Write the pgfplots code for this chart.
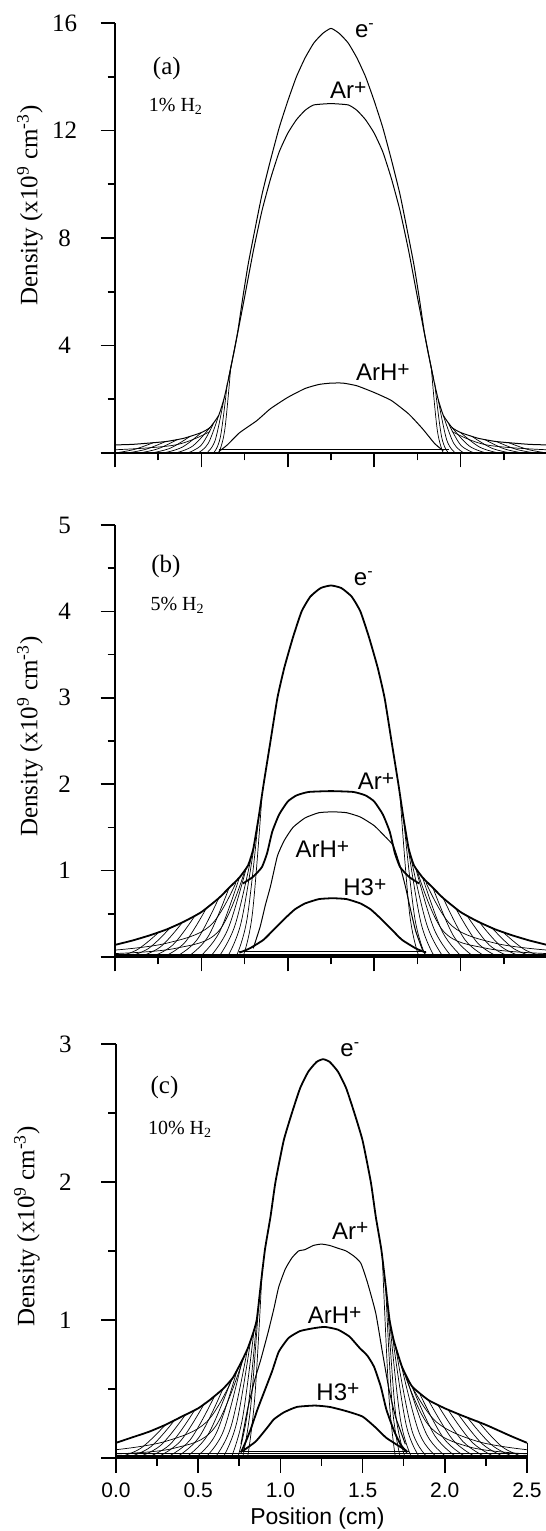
\documentclass[border=0pt]{standalone}
\usepackage{pgfplots}
\pgfplotsset{compat=1.18}
\usepackage{fontspec}
\setmainfont{Liberation Serif}
\setsansfont{Liberation Sans}
\newcommand{\tickf}{\fontsize{12.5}{14}\selectfont}
\newcommand{\ylabf}{\fontsize{12.5}{14}\selectfont}
\newcommand{\curvf}{\sffamily\fontsize{12}{14}\selectfont}
\newcommand{\panf}{\fontsize{12.5}{14}\selectfont}
\newcommand{\gasf}{\fontsize{10}{12}\selectfont}
\newcommand{\plus}{\raisebox{0.35ex}{\fontsize{10.5}{10}\selectfont +}}
\pgfplotsset{
  panel/.style={scale only axis, axis x line=bottom, axis y line=left,
    axis line style={-, line width=0.8pt}, tick align=outside,
    major tick length=7.25pt, minor tick length=3.75pt,
    every tick/.style={black, line width=0.8pt},
    xmin=0, xmax=2.5, xtick={0,0.5,1,1.5,2,2.5}, minor x tick num=1, minor y tick num=1,
    clip=false, enlargelimits=false,
    /pgf/number format/assume math mode=true,
    yticklabel style={font=\tickf, anchor=center, xshift=-18pt},
    every axis y label/.style={rotate=90, anchor=center, font=\ylabf}},
  fan/.style={black, line width=0.35pt, smooth, tension=0.6},
  thn/.style={black, line width=0.5pt, smooth, tension=0.3},
  thk/.style={black, line width=0.9pt, smooth, tension=0.3},
  flat/.style={black, line width=0.5pt}
}
\begin{document}
\begin{tikzpicture}
% ---------------- panel (a)
\begin{axis}[panel, at={(57.5pt,539pt)}, anchor=south west, width=216pt, height=215pt,
  ymin=0, ymax=16, ytick={0,4,8,12,16}, yticklabels={,4,8,12,16}, xticklabels={},
  ylabel={Density (x10\textsuperscript{9} cm\textsuperscript{-3})},
  ylabel style={at={(axis description cs:-0.197,0.576)}}]
\addplot[flat] coordinates {(0,0)(0,0.30)};
\addplot[flat] coordinates {(2.5,0)(2.5,0.30)};
\addplot[thn] coordinates {(0,0.30)(0.1,0.32)(0.2,0.37)(0.3,0.43)(0.4,0.55)(0.5,0.76)(0.55,0.95)(0.6,1.4)(0.63,2.0)(0.655,2.7)(0.68,3.5)(0.71,4.5)(0.74,5.8)(0.77,7.0)(0.8,8.0)(0.85,9.6)(0.9,10.9)(0.95,12.1)(1.0,13.1)(1.05,14.0)(1.1,14.7)(1.15,15.25)(1.2,15.6)(1.25,15.8)(1.3,15.6)(1.35,15.25)(1.4,14.7)(1.45,14.0)(1.5,13.1)(1.55,12.1)(1.6,10.9)(1.65,9.6)(1.7,8.0)(1.73,7.0)(1.76,5.8)(1.79,4.5)(1.82,3.5)(1.845,2.7)(1.87,2.0)(1.9,1.4)(1.95,0.95)(2.0,0.76)(2.1,0.55)(2.2,0.43)(2.3,0.37)(2.4,0.32)(2.5,0.30)};
\addplot[thn] coordinates {(0.655,2.7)(0.69,3.8)(0.72,4.8)(0.75,5.8)(0.8,7.5)(0.85,9.0)(0.9,10.2)(0.95,11.2)(1.0,11.9)(1.05,12.4)(1.1,12.75)(1.15,12.95)(1.25,13.0)(1.35,12.95)(1.4,12.75)(1.45,12.4)(1.5,11.9)(1.55,11.2)(1.6,10.2)(1.65,9.0)(1.7,7.5)(1.75,5.8)(1.78,4.8)(1.81,3.8)(1.845,2.7)};
\addplot[thn] coordinates {(0.6,0.05)(0.65,0.3)(0.72,0.75)(0.82,1.2)(0.9,1.65)(1.0,2.07)(1.1,2.4)(1.18,2.55)(1.25,2.6)(1.32,2.6)(1.4,2.5)(1.5,2.25)(1.6,1.95)(1.7,1.45)(1.78,0.9)(1.85,0.35)(1.9,0.08)};
\addplot[flat] coordinates {(0.6,0.13)(1.93,0.13)};
\addplot[flat] coordinates {(0,0.03)(2.5,0.03)};
% fans left
\addplot[fan] coordinates {(0,0)(0.11,0.13)(0.22,0.38)};
\addplot[fan] coordinates {(0.07,0)(0.18,0.14)(0.29,0.42)};
\addplot[fan] coordinates {(0.14,0)(0.25,0.16)(0.36,0.5)};
\addplot[fan] coordinates {(0.21,0)(0.32,0.18)(0.43,0.6)};
\addplot[fan] coordinates {(0.28,0)(0.39,0.22)(0.5,0.76)};
\addplot[fan] coordinates {(0.35,0)(0.45,0.26)(0.55,0.95)};
\addplot[fan] coordinates {(0.42,0)(0.5,0.3)(0.57,1.1)};
\addplot[fan] coordinates {(0.48,0)(0.54,0.36)(0.6,1.4)};
\addplot[fan] coordinates {(0.53,0)(0.58,0.48)(0.63,2.0)};
\addplot[fan] coordinates {(0.57,0)(0.61,0.6)(0.65,2.6)};
\addplot[fan] coordinates {(0.6,0)(0.635,0.85)(0.67,3.2)};
\addplot[fan] coordinates {(0,0.12)(0.35,0.3)(0.55,0.8)};
% fans right
\addplot[fan] coordinates {(2.5,0)(2.39,0.13)(2.28,0.38)};
\addplot[fan] coordinates {(2.43,0)(2.32,0.14)(2.21,0.42)};
\addplot[fan] coordinates {(2.36,0)(2.25,0.16)(2.14,0.5)};
\addplot[fan] coordinates {(2.29,0)(2.18,0.18)(2.07,0.6)};
\addplot[fan] coordinates {(2.22,0)(2.11,0.22)(2.0,0.76)};
\addplot[fan] coordinates {(2.15,0)(2.05,0.26)(1.95,0.95)};
\addplot[fan] coordinates {(2.08,0)(2.0,0.3)(1.93,1.1)};
\addplot[fan] coordinates {(2.02,0)(1.96,0.36)(1.9,1.4)};
\addplot[fan] coordinates {(1.97,0)(1.92,0.48)(1.87,2.0)};
\addplot[fan] coordinates {(1.93,0)(1.89,0.6)(1.85,2.6)};
\addplot[fan] coordinates {(1.9,0)(1.865,0.85)(1.83,3.2)};
\addplot[fan] coordinates {(2.5,0.12)(2.15,0.3)(1.95,0.8)};
\node[font=\curvf] at (axis cs:1.446,15.72) {e\textsuperscript{-}};
\node[font=\curvf] at (axis cs:1.35,13.48) {Ar\plus};
\node[font=\curvf] at (axis cs:1.55,3.0) {ArH\plus};
\node[font=\panf] at (axis description cs:0.12,0.895) {(a)};
\node[font=\gasf] at (axis description cs:0.141,0.805) {1\% H\textsubscript{2}};
\end{axis}
% ---------------- panel (b)
\begin{axis}[panel, at={(57.5pt,287pt)}, anchor=south west, width=216pt, height=216pt,
  ymin=0, ymax=5, ytick={0,1,2,3,4,5}, yticklabels={,1,2,3,4,5}, xticklabels={},
  ylabel={Density (x10\textsuperscript{9} cm\textsuperscript{-3})},
  ylabel style={at={(axis description cs:-0.197,0.51)}}]
\addplot[flat] coordinates {(0,0)(0,0.14)};
\addplot[flat] coordinates {(2.5,0)(2.5,0.14)};
\addplot[thk] coordinates {(0,0.14)(0.1,0.19)(0.2,0.25)(0.3,0.32)(0.4,0.41)(0.5,0.52)(0.6,0.68)(0.66,0.8)(0.72,0.92)(0.77,1.06)(0.8,1.25)(0.83,1.6)(0.86,2.0)(0.9,2.5)(0.94,3.0)(0.98,3.35)(1.03,3.7)(1.08,4.0)(1.13,4.17)(1.19,4.27)(1.25,4.3)(1.31,4.27)(1.37,4.17)(1.42,4.0)(1.47,3.7)(1.52,3.35)(1.56,3.0)(1.6,2.5)(1.64,2.0)(1.67,1.6)(1.7,1.25)(1.73,1.06)(1.78,0.92)(1.84,0.8)(1.9,0.68)(2.0,0.52)(2.1,0.41)(2.2,0.32)(2.3,0.25)(2.4,0.19)(2.5,0.14)};
\addplot[thk] coordinates {(0.74,0.85)(0.8,0.93)(0.85,1.04)(0.88,1.2)(0.91,1.45)(0.95,1.65)(1.0,1.8)(1.05,1.87)(1.12,1.91)(1.25,1.92)(1.38,1.91)(1.45,1.87)(1.5,1.8)(1.55,1.65)(1.59,1.45)(1.62,1.2)(1.65,1.04)(1.7,0.93)(1.76,0.85)};
\addplot[thn] coordinates {(0.8,0.1)(0.84,0.35)(0.87,0.6)(0.9,0.82)(0.94,1.17)(0.98,1.35)(1.03,1.5)(1.1,1.61)(1.18,1.67)(1.26,1.68)(1.34,1.67)(1.42,1.62)(1.5,1.52)(1.56,1.4)(1.61,1.29)(1.65,1.05)(1.68,0.82)(1.71,0.55)(1.74,0.3)(1.78,0.08)};
\addplot[thk] coordinates {(0.72,0.05)(0.78,0.1)(0.86,0.2)(0.92,0.32)(0.98,0.44)(1.04,0.55)(1.1,0.62)(1.18,0.67)(1.26,0.68)(1.34,0.67)(1.42,0.62)(1.48,0.55)(1.54,0.44)(1.6,0.32)(1.66,0.2)(1.74,0.1)(1.8,0.05)};
\addplot[flat] coordinates {(0.72,0.06)(1.8,0.06)};
\addplot[flat, line width=0.9pt] coordinates {(0,0.02)(2.5,0.02)};
% fans left
\addplot[fan] coordinates {(0,0)(0.125,0.08)(0.25,0.28)};
\addplot[fan] coordinates {(0.07,0)(0.195,0.1)(0.32,0.34)};
\addplot[fan] coordinates {(0.14,0)(0.265,0.12)(0.39,0.4)};
\addplot[fan] coordinates {(0.21,0)(0.335,0.14)(0.46,0.47)};
\addplot[fan] coordinates {(0.28,0)(0.405,0.17)(0.53,0.57)};
\addplot[fan] coordinates {(0.35,0)(0.475,0.2)(0.6,0.68)};
\addplot[fan] coordinates {(0.42,0)(0.54,0.24)(0.66,0.8)};
\addplot[fan] coordinates {(0.49,0)(0.605,0.29)(0.72,0.92)};
\addplot[fan] coordinates {(0.55,0)(0.655,0.33)(0.76,1.03)};
\addplot[fan] coordinates {(0.6,0)(0.695,0.37)(0.79,1.17)};
\addplot[fan] coordinates {(0.65,0)(0.73,0.4)(0.81,1.35)};
\addplot[fan] coordinates {(0.7,0)(0.765,0.45)(0.83,1.6)};
\addplot[fan] coordinates {(0.74,0)(0.795,0.5)(0.85,1.85)};
\addplot[fan] coordinates {(0,0.08)(0.3,0.16)(0.55,0.36)(0.7,0.86)};
\addplot[fan] coordinates {(0,0.04)(0.35,0.1)(0.6,0.3)(0.75,0.99)};
% fans right
\addplot[fan] coordinates {(2.5,0)(2.375,0.08)(2.25,0.28)};
\addplot[fan] coordinates {(2.43,0)(2.305,0.1)(2.18,0.34)};
\addplot[fan] coordinates {(2.36,0)(2.235,0.12)(2.11,0.4)};
\addplot[fan] coordinates {(2.29,0)(2.165,0.14)(2.04,0.47)};
\addplot[fan] coordinates {(2.22,0)(2.095,0.17)(1.97,0.57)};
\addplot[fan] coordinates {(2.15,0)(2.025,0.2)(1.9,0.68)};
\addplot[fan] coordinates {(2.08,0)(1.96,0.24)(1.84,0.8)};
\addplot[fan] coordinates {(2.01,0)(1.895,0.29)(1.78,0.92)};
\addplot[fan] coordinates {(1.95,0)(1.845,0.33)(1.74,1.03)};
\addplot[fan] coordinates {(1.9,0)(1.805,0.37)(1.71,1.17)};
\addplot[fan] coordinates {(1.85,0)(1.77,0.4)(1.69,1.35)};
\addplot[fan] coordinates {(1.8,0)(1.735,0.45)(1.67,1.6)};
\addplot[fan] coordinates {(1.76,0)(1.705,0.5)(1.65,1.85)};
\addplot[fan] coordinates {(2.5,0.08)(2.2,0.16)(1.95,0.36)(1.8,0.86)};
\addplot[fan] coordinates {(2.5,0.04)(2.15,0.1)(1.9,0.3)(1.75,0.99)};
\node[font=\curvf] at (axis cs:1.44,4.38) {e\textsuperscript{-}};
\node[font=\curvf] at (axis cs:1.51,2.03) {Ar\plus};
\node[font=\curvf] at (axis cs:1.20,1.245) {ArH\plus};
\node[font=\curvf] at (axis cs:1.446,0.805) {H3\plus};
\node[font=\panf] at (axis description cs:0.118,0.905) {(b)};
\node[font=\gasf] at (axis description cs:0.145,0.815) {5\% H\textsubscript{2}};
\end{axis}
% ---------------- panel (c)
\begin{axis}[panel, at={(58pt,36.5pt)}, anchor=south west, width=205.5pt, height=207pt,
  ymin=0, ymax=3, ytick={0,1,2,3}, yticklabels={,1,2,3},
  xticklabels={0.0,0.5,1.0,1.5,2.0,2.5},
  xticklabel style={font=\sffamily\fontsize{10.5}{12}\selectfont, anchor=center, yshift=-9pt},
  xlabel={Position (cm)},
  xlabel style={at={(axis description cs:0.49,0)}, anchor=center, yshift=-30.5pt, font=\sffamily\fontsize{11.5}{13}\selectfont},
  ylabel={Density (x10\textsuperscript{9} cm\textsuperscript{-3})},
  ylabel style={at={(axis description cs:-0.217,0.56)}}]
\addplot[flat] coordinates {(0,0)(0,0.11)};
\addplot[flat] coordinates {(2.5,0)(2.5,0.11)};
\addplot[thk] coordinates {(0,0.11)(0.1,0.15)(0.2,0.19)(0.3,0.24)(0.4,0.3)(0.5,0.36)(0.57,0.42)(0.65,0.5)(0.71,0.58)(0.76,0.69)(0.8,0.79)(0.83,0.89)(0.856,1.0)(0.88,1.25)(0.906,1.51)(0.94,1.75)(0.97,2.0)(1.02,2.3)(1.07,2.5)(1.12,2.68)(1.17,2.8)(1.22,2.87)(1.26,2.89)(1.30,2.87)(1.35,2.8)(1.40,2.68)(1.45,2.5)(1.50,2.3)(1.55,2.0)(1.58,1.75)(1.614,1.51)(1.64,1.25)(1.664,1.0)(1.69,0.85)(1.74,0.66)(1.8,0.52)(1.9,0.42)(2.0,0.36)(2.1,0.31)(2.25,0.24)(2.4,0.16)(2.5,0.11)};
\addplot[thn] coordinates {(0.76,0.1)(0.8,0.35)(0.84,0.55)(0.88,0.71)(0.925,0.91)(0.96,1.08)(0.99,1.24)(1.03,1.37)(1.07,1.45)(1.11,1.5)(1.15,1.51)(1.2,1.54)(1.25,1.55)(1.3,1.54)(1.35,1.52)(1.4,1.5)(1.45,1.46)(1.49,1.41)(1.53,1.27)(1.58,1.05)(1.62,0.77)(1.66,0.5)(1.7,0.3)(1.76,0.1)};
\addplot[thk] coordinates {(0.76,0.04)(0.79,0.12)(0.82,0.21)(0.86,0.35)(0.905,0.49)(0.95,0.63)(0.99,0.77)(1.05,0.87)(1.12,0.92)(1.2,0.94)(1.27,0.95)(1.35,0.93)(1.42,0.88)(1.48,0.8)(1.53,0.74)(1.57,0.66)(1.61,0.52)(1.645,0.35)(1.69,0.2)(1.73,0.1)(1.77,0.04)};
\addplot[thk] coordinates {(0.77,0.05)(0.85,0.12)(0.92,0.22)(0.96,0.28)(1.02,0.33)(1.1,0.37)(1.21,0.38)(1.3,0.37)(1.4,0.34)(1.5,0.3)(1.58,0.22)(1.64,0.15)(1.69,0.11)(1.77,0.05)};
\addplot[flat] coordinates {(0.75,0.05)(1.78,0.05)};
\addplot[flat, line width=0.9pt] coordinates {(0,0.015)(2.5,0.015)};
\addplot[flat] coordinates {(0,0.03)(2.5,0.03)};
% fans left
\addplot[fan] coordinates {(0,0)(0.15,0.07)(0.3,0.24)};
\addplot[fan] coordinates {(0.06,0)(0.21,0.08)(0.36,0.28)};
\addplot[fan] coordinates {(0.12,0)(0.27,0.09)(0.42,0.31)};
\addplot[fan] coordinates {(0.18,0)(0.33,0.1)(0.48,0.35)};
\addplot[fan] coordinates {(0.24,0)(0.39,0.12)(0.54,0.4)};
\addplot[fan] coordinates {(0.3,0)(0.45,0.13)(0.6,0.45)};
\addplot[fan] coordinates {(0.36,0)(0.505,0.15)(0.65,0.5)};
\addplot[fan] coordinates {(0.42,0)(0.56,0.17)(0.7,0.56)};
\addplot[fan] coordinates {(0.48,0)(0.61,0.18)(0.74,0.65)};
\addplot[fan] coordinates {(0.54,0)(0.655,0.2)(0.77,0.72)};
\addplot[fan] coordinates {(0.6,0)(0.7,0.23)(0.8,0.79)};
\addplot[fan] coordinates {(0.65,0)(0.735,0.26)(0.82,0.86)};
\addplot[fan] coordinates {(0.7,0)(0.77,0.29)(0.84,0.93)};
\addplot[fan] coordinates {(0.74,0)(0.8,0.33)(0.856,1.0)};
\addplot[fan] coordinates {(0.77,0)(0.82,0.38)(0.87,1.15)};
\addplot[fan] coordinates {(0.8,0)(0.845,0.45)(0.89,1.38)};
\addplot[fan] coordinates {(0,0.06)(0.3,0.12)(0.55,0.26)(0.71,0.58)};
\addplot[fan] coordinates {(0,0.03)(0.35,0.07)(0.6,0.22)(0.78,0.74)};
% fans right
\addplot[fan] coordinates {(2.5,0)(2.35,0.08)(2.2,0.27)};
\addplot[fan] coordinates {(2.44,0)(2.29,0.09)(2.14,0.29)};
\addplot[fan] coordinates {(2.38,0)(2.23,0.1)(2.08,0.32)};
\addplot[fan] coordinates {(2.32,0)(2.17,0.11)(2.02,0.35)};
\addplot[fan] coordinates {(2.26,0)(2.11,0.12)(1.96,0.38)};
\addplot[fan] coordinates {(2.2,0)(2.05,0.13)(1.9,0.42)};
\addplot[fan] coordinates {(2.14,0)(1.995,0.14)(1.85,0.46)};
\addplot[fan] coordinates {(2.08,0)(1.94,0.16)(1.8,0.52)};
\addplot[fan] coordinates {(2.02,0)(1.89,0.17)(1.76,0.61)};
\addplot[fan] coordinates {(1.96,0)(1.845,0.18)(1.73,0.7)};
\addplot[fan] coordinates {(1.9,0)(1.8,0.2)(1.7,0.81)};
\addplot[fan] coordinates {(1.85,0)(1.765,0.24)(1.68,0.9)};
\addplot[fan] coordinates {(1.8,0)(1.73,0.28)(1.664,1.0)};
\addplot[fan] coordinates {(1.76,0)(1.7,0.33)(1.65,1.15)};
\addplot[fan] coordinates {(1.73,0)(1.68,0.38)(1.64,1.25)};
\addplot[fan] coordinates {(1.7,0)(1.66,0.45)(1.62,1.45)};
\addplot[fan] coordinates {(2.5,0.06)(2.2,0.12)(1.95,0.26)(1.8,0.52)};
\addplot[fan] coordinates {(2.5,0.03)(2.15,0.08)(1.9,0.24)(1.74,0.66)};
\node[font=\curvf] at (axis cs:1.425,2.96) {e\textsuperscript{-}};
\node[font=\curvf] at (axis cs:1.425,1.645) {Ar\plus};
\node[font=\curvf] at (axis cs:1.33,1.035) {ArH\plus};
\node[font=\curvf] at (axis cs:1.35,0.48) {H3\plus};
\node[font=\panf] at (axis description cs:0.118,0.896) {(c)};
\node[font=\gasf] at (axis description cs:0.156,0.795) {10\% H\textsubscript{2}};
\end{axis}
\pgfresetboundingbox
\path[use as bounding box] (0,0) rectangle (273pt,765.5pt);
\end{tikzpicture}
\end{document}
